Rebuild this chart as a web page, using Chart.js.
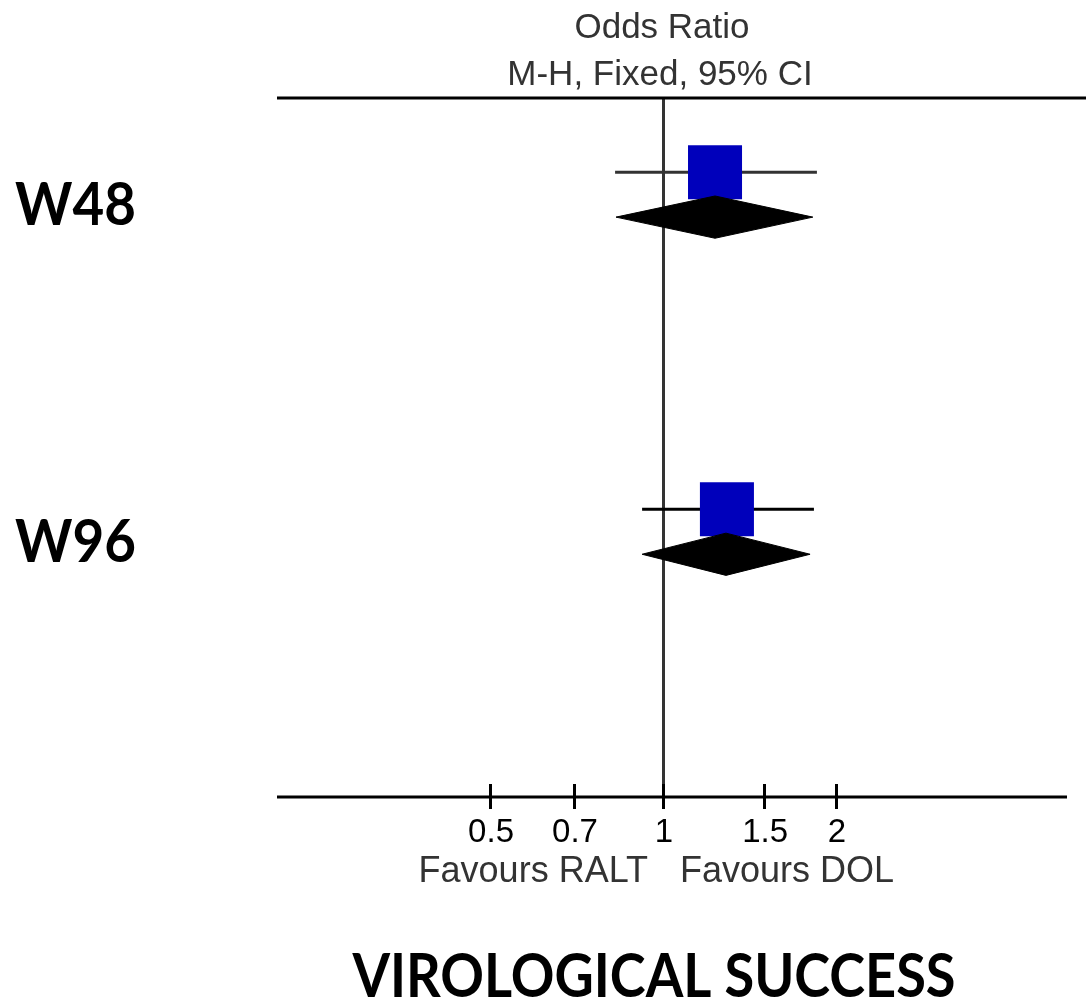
<!DOCTYPE html>
<html>
<head>
<meta charset="utf-8">
<script src="https://cdn.jsdelivr.net/npm/chart.js@4.4.1/dist/chart.umd.min.js"></script>
<style>
  html, body { margin: 0; padding: 0; background: #fff; overflow: hidden; }
  canvas { display: block; }
</style>
</head>
<body>
<canvas id="forest" width="1086" height="1000"></canvas>
<script>
// data (odds ratios, log scale)
const subgroups = ["W48", "W96"];
const oddsRatio = [1.227, 1.287];
const ciLower = [0.822, 0.916];
const ciUpper = [1.846, 1.824];
const pooledOR = [1.227, 1.282];
const pooledLower = [0.825, 0.916];
const pooledUpper = [1.816, 1.796];
const tickValues = [0.5, 0.7, 1, 1.5, 2];
const tickLabels = ["0.5", "0.7", "1", "1.5", "2"];
const studyRows = [2, 9.5];
const pooledRows = [3, 10.5];

const squareRadius = 38.2;   // rect point -> 54px side
const diamondHalf = 0.47;    // in row units

function buildDatasets() {
    const diamonds = [], squares = [], ciLines = [];
    subgroups.forEach((name, i) => {
        const yr = pooledRows[i];
        diamonds.push({
            type: "line",
            label: name + " total",
            data: [
                { x: pooledLower[i], y: yr },
                { x: pooledOR[i], y: yr - diamondHalf },
                { x: pooledUpper[i], y: yr },
                { x: pooledOR[i], y: yr + diamondHalf },
                { x: pooledLower[i], y: yr }
            ],
            fill: "shape",
            backgroundColor: "#000000",
            borderColor: "#000000",
            borderWidth: 1,
            pointRadius: 0,
            tension: 0
        });
        squares.push({
            type: "scatter",
            label: name,
            data: [{ x: oddsRatio[i], y: studyRows[i] }],
            pointStyle: "rect",
            pointRadius: squareRadius,
            backgroundColor: "#0000bb",
            borderWidth: 0
        });
        ciLines.push({
            type: "line",
            label: name + " CI",
            data: [{ x: ciLower[i], y: studyRows[i] }, { x: ciUpper[i], y: studyRows[i] }],
            borderColor: i === 0 ? "#333333" : "#000000",
            borderWidth: 3,
            pointRadius: 0,
            fill: false
        });
    });
    // first dataset is drawn on top
    return [...diamonds, ...squares, ...ciLines];
}

const forestDecor = {
    id: "forestDecor",
    beforeDatasetsDraw(chart) {
        const { ctx, chartArea, scales } = chart;
        const x1 = Math.round(scales.x.getPixelForValue(1)) - 0.5;
        ctx.save();
        ctx.strokeStyle = "#333333";
        ctx.lineWidth = 3;
        ctx.beginPath();
        ctx.moveTo(x1, chartArea.top);
        ctx.lineTo(x1, chartArea.bottom);
        ctx.stroke();
        ctx.restore();
    },
    afterDraw(chart) {
        const { ctx, chartArea, scales } = chart;
        const xs = scales.x, ys = scales.y;
        const x1 = xs.getPixelForValue(1);
        ctx.save();
        // top rule and bottom axis
        ctx.strokeStyle = "#000";
        ctx.lineWidth = 3;
        ctx.beginPath();
        ctx.moveTo(chartArea.left, chartArea.top);
        ctx.lineTo(chart.width, chartArea.top);
        ctx.moveTo(chartArea.left, chartArea.bottom);
        ctx.lineTo(chartArea.right, chartArea.bottom);
        ctx.stroke();
        // tick marks
        tickValues.forEach(v => {
            const px = Math.round(xs.getPixelForValue(v)) - 0.5;
            ctx.beginPath();
            ctx.moveTo(px, chartArea.bottom - 13);
            ctx.lineTo(px, chartArea.bottom + 12);
            ctx.stroke();
        });
        // tick labels
        ctx.fillStyle = "#000";
        ctx.font = "33px 'Liberation Sans', Arial, sans-serif";
        ctx.textAlign = "center";
        ctx.textBaseline = "alphabetic";
        tickValues.forEach((v, i) => {
            ctx.fillText(tickLabels[i], xs.getPixelForValue(v), chartArea.bottom + 45);
        });
        // favours labels
        ctx.fillStyle = "#333";
        ctx.font = "36px 'Liberation Sans', Arial, sans-serif";
        ctx.textAlign = "right";
        ctx.fillText("Favours RALT", x1 - 16, chartArea.bottom + 85);
        ctx.textAlign = "left";
        ctx.fillText("Favours DOL", x1 + 16, chartArea.bottom + 85);
        // header
        ctx.font = "35px 'Liberation Sans', Arial, sans-serif";
        ctx.textAlign = "center";
        ctx.fillText("Odds Ratio", x1 - 2, 38);
        ctx.fillText("M-H, Fixed, 95% CI", x1 - 4, 85);
        // subgroup labels
        ctx.fillStyle = "#000";
        ctx.font = "bold 60px Lato, 'Open Sans', sans-serif";
        ctx.textAlign = "left";
        subgroups.forEach((name, i) => {
            ctx.fillText(name, 15, ys.getPixelForValue(studyRows[i]) + 53, 121);
        });
        // bottom caption
        ctx.font = "bold 62px Lato, 'Open Sans', sans-serif";
        ctx.textAlign = "center";
        ctx.fillText("VIROLOGICAL SUCCESS", 654, 997, 603);
        ctx.restore();
    }
};

new Chart(document.getElementById("forest"), {
    type: "scatter",
    data: { datasets: buildDatasets() },
    options: {
        responsive: false,
        animation: false,
        devicePixelRatio: 1,
        layout: {
            autoPadding: false,
            padding: { top: 98, left: 277, right: 19, bottom: 203 }
        },
        scales: {
            x: { type: "logarithmic", min: 0.212, max: 5.03, display: false },
            y: { type: "linear", min: 0.35, max: 15.9, reverse: true, display: false }
        },
        plugins: {
            legend: { display: false },
            tooltip: { enabled: false }
        }
    },
    plugins: [forestDecor]
});
</script>
</body>
</html>
